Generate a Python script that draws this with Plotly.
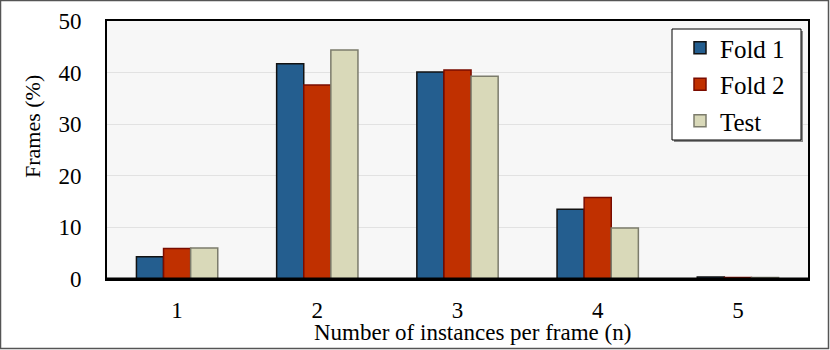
import plotly.graph_objects as go

categories = ["1", "2", "3", "4", "5"]
fold1 = [4.3, 41.7, 40.1, 13.5, 0.4]
fold2 = [5.9, 37.6, 40.5, 15.8, 0.3]
test = [6.0, 44.4, 39.3, 9.9, 0.3]

W, H = 830, 350
L, R, T, B = 107, 22, 21, 71

series = [
    ("Fold 1", fold1, "#245e8f", "#121212"),
    ("Fold 2", fold2, "#c03000", "#7a0c00"),
    ("Test", test, "#d9d9b9", "#7c7c6c"),
]

fig = go.Figure()
for name, vals, fill, edge in series:
    fig.add_trace(go.Bar(
        x=categories, y=vals, name=name, legendgroup=name,
        marker={"color": fill, "line": {"color": edge, "width": 1.5}},
    ))

font = "Liberation Serif"


def px_x(px):
    return (px - L) / (W - L - R)


def px_y(py):
    return (H - B - py) / (H - T - B)


def px_rect(x0, y0, x1, y1, **kw):
    return dict(type="rect", xref="paper", yref="paper",
                x0=px_x(x0), x1=px_x(x1), y0=px_y(y1), y1=px_y(y0), **kw)


fig.update_layout(
    width=W, height=H,
    margin={"l": L, "r": R, "t": T, "b": B, "autoexpand": False},
    paper_bgcolor="white",
    plot_bgcolor="#f7f7f7",
    barmode="group",
    bargap=0.42,
    bargroupgap=0,
    font={"family": font, "color": "black", "size": 23},
    showlegend=True,
    legend={
        "x": px_x(680), "y": px_y(25), "xanchor": "left", "yanchor": "top",
        "bgcolor": "rgba(0,0,0,0)", "borderwidth": 0,
        "font": {"family": font, "size": 25, "color": "black"},
        "tracegroupgap": 1,
        "itemwidth": 30,
    },
    xaxis={
        "automargin": False,
        "showline": True, "linecolor": "black", "linewidth": 2, "mirror": True,
        "ticks": "", "ticklabelstandoff": 9,
        "tickfont": {"family": font, "size": 23, "color": "black"},
    },
    yaxis={
        "automargin": False,
        "range": [0, 50], "dtick": 10,
        "showline": True, "linecolor": "black", "linewidth": 2, "mirror": True,
        "showgrid": True, "gridcolor": "#e2e2e2", "gridwidth": 1,
        "zeroline": False, "ticks": "", "ticklabelstandoff": 19,
        "tickfont": {"family": font, "size": 23, "color": "black"},
    },
    annotations=[
        dict(text="Number of instances per frame (n)", xref="paper", yref="paper",
             x=px_x(473), y=px_y(332), xanchor="center", yanchor="middle",
             showarrow=False, font={"family": font, "size": 23}),
        dict(text="Frames (%)", xref="paper", yref="paper",
             x=px_x(33), y=px_y(127), xanchor="center", yanchor="middle",
             textangle=-90, showarrow=False, font={"family": font, "size": 22}),
    ],
    shapes=[
        # outer frame around the whole picture
        px_rect(0.5, 0.5, W - 1.5, H - 1.5,
                line={"color": "#555555", "width": 1.5}, layer="below"),
        # heavier baseline
        dict(type="line", xref="paper", yref="paper", x0=0, x1=1, y0=0, y1=0,
             line={"color": "black", "width": 3}, layer="above"),
        # legend box with its shadow
        px_rect(674, 31, 803, 142, fillcolor="#8a8a8a",
                line={"width": 0}, layer="above"),
        px_rect(672, 29, 801, 140, fillcolor="white",
                line={"color": "black", "width": 1}, layer="above"),
    ],
)

fig.write_html("out.html", config={"displayModeBar": False},
               post_script="document.body.style.margin='0';")
